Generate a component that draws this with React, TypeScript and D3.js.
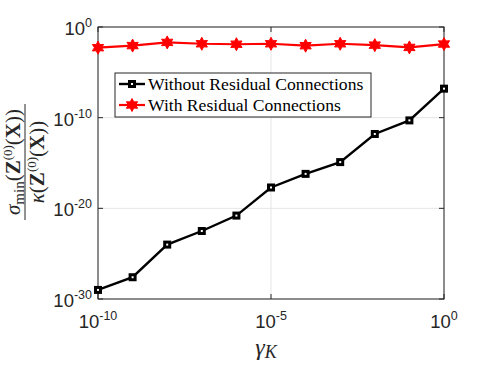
import * as d3 from "d3";

const W = 491, H = 368;
const M = { left: 98, right: 47, top: 27, bottom: 69 };
const IW = W - M.left - M.right;
const IH = H - M.top - M.bottom;

// gamma_K values, one point per decade
const GAMMA = [1e-10, 1e-9, 1e-8, 1e-7, 1e-6, 1e-5, 1e-4, 1e-3, 1e-2, 1e-1, 1e0];
// log10 of the ratio
const WITHOUT_LOG = [-29.0, -27.6, -24.0, -22.5, -20.8, -17.7, -16.2, -14.9, -11.8, -10.3, -6.8];
const WITH_LOG = [-2.28, -2.05, -1.7, -1.85, -1.9, -1.85, -2.06, -1.85, -2.0, -2.25, -1.88];

const X_TICKS = [1e-10, 1e-5, 1e0];
const X_EXP = ["-10", "-5", "0"];
const Y_TICKS = [1e0, 1e-10, 1e-20, 1e-30];
const Y_EXP = ["0", "-10", "-20", "-30"];

const AX = "#262626";
const GRID = "#e5e5e5";
const RED = "#ff0000";
const SANS = "'Liberation Sans', Arial, sans-serif";
const SERIF = "'Liberation Serif', 'Times New Roman', serif";

const x = d3.scaleLog().domain([1e-10, 1]).range([0, IW]);
const y = d3.scaleLog().domain([1e-30, 1]).range([IH, 0]);

const without = GAMMA.map((g, i) => ({ g, v: Math.pow(10, WITHOUT_LOG[i]) }));
const withRes = GAMMA.map((g, i) => ({ g, v: Math.pow(10, WITH_LOG[i]) }));

const line = d3.line<{ g: number; v: number }>().x(d => x(d.g)).y(d => y(d.v));

// six-pointed star (hexagram) marker
function hexagram(r: number) {
  const pts: [number, number][] = [];
  for (let k = 0; k < 12; k++) {
    const a = (Math.PI / 6) * k - Math.PI / 2;
    const rr = k % 2 === 0 ? r : r * 0.55;
    pts.push([Math.cos(a) * rr, Math.sin(a) * rr]);
  }
  return d3.line()(pts) + "Z";
}
const STAR = hexagram(6.5);

function Square({ cx, cy }: { cx: number; cy: number }) {
  return (
    <g>
      <rect x={cx - 4} y={cy - 4} width={8} height={8} fill="#000" />
      <rect x={cx - 1} y={cy - 1} width={2} height={2} fill="#fff" />
    </g>
  );
}

export default function App() {
  return (
    <div style={{ position: "absolute", left: 0, top: 0, width: W, height: H, background: "#fff" }}>
      <svg width={W} height={H} style={{ display: "block" }}>
        <g transform={`translate(${M.left},${M.top})`}>
          {/* grid */}
          {X_TICKS.map(t => (
            <line key={"gx" + t} x1={x(t)} x2={x(t)} y1={0} y2={IH} stroke={GRID} strokeWidth={1} />
          ))}
          {Y_TICKS.map(t => (
            <line key={"gy" + t} x1={0} x2={IW} y1={y(t)} y2={y(t)} stroke={GRID} strokeWidth={1} />
          ))}

          {/* box */}
          <rect x={0} y={0} width={IW} height={IH} fill="none" stroke={AX} strokeWidth={1} />
          {X_TICKS.map(t => (
            <g key={"tx" + t}>
              <line x1={x(t)} x2={x(t)} y1={IH} y2={IH - 5} stroke={AX} />
              <line x1={x(t)} x2={x(t)} y1={0} y2={5} stroke={AX} />
            </g>
          ))}
          {Y_TICKS.map(t => (
            <g key={"ty" + t}>
              <line x1={0} x2={5} y1={y(t)} y2={y(t)} stroke={AX} />
              <line x1={IW} x2={IW - 5} y1={y(t)} y2={y(t)} stroke={AX} />
            </g>
          ))}

          {/* tick labels */}
          {X_TICKS.map((t, i) => (
            <text key={"lx" + t} x={x(t)} y={IH + 29} textAnchor="middle" fontFamily={SANS} fontSize={18.5} fill={AX}>
              10<tspan fontSize={12.5} dy={-8}>{X_EXP[i]}</tspan>
            </text>
          ))}
          {Y_TICKS.map((t, i) => (
            <text key={"ly" + t} x={-6} y={y(t) + 8} textAnchor="end" fontFamily={SANS} fontSize={18.5} fill={AX}>
              10<tspan fontSize={12.5} dy={-8}>{Y_EXP[i]}</tspan>
            </text>
          ))}

          {/* series */}
          <path d={line(withRes) ?? ""} fill="none" stroke={RED} strokeWidth={2.2} />
          {withRes.map(d => (
            <path key={"r" + d.g} d={STAR} transform={`translate(${x(d.g)},${y(d.v)})`} fill={RED} stroke={RED} strokeWidth={1} />
          ))}
          <path d={line(without) ?? ""} fill="none" stroke="#000" strokeWidth={2.4} />
          {without.map(d => (
            <Square key={"b" + d.g} cx={x(d.g)} cy={y(d.v)} />
          ))}
        </g>

        {/* legend */}
        <g transform="translate(115,73)">
          <rect x={0} y={0} width={256} height={44} fill="#fff" stroke={AX} strokeWidth={1} />
          <line x1={4} x2={30} y1={11} y2={11} stroke="#000" strokeWidth={2.4} />
          <Square cx={17} cy={11} />
          <text x={33} y={16.5} fontFamily={SERIF} fontSize={17.6} fill="#000">Without Residual Connections</text>
          <line x1={4} x2={30} y1={32} y2={32} stroke={RED} strokeWidth={2.2} />
          <path d={STAR} transform="translate(17,32)" fill={RED} stroke={RED} strokeWidth={1} />
          <text x={33} y={37.5} fontFamily={SERIF} fontSize={17.6} fill="#000">With Residual Connections</text>
        </g>

        {/* x label */}
        <text x={266} y={355} textAnchor="middle" fontFamily={SERIF} fontStyle="italic" fontSize={24} fill={AX}>
          γ<tspan fontSize={18} dy={3}>K</tspan>
        </text>

        {/* y label */}
        <g transform="translate(25,162) rotate(-90)" fontFamily={SERIF} fill={AX}>
          <text x={0} y={-5} textAnchor="middle" fontSize={21}>
            <tspan fontStyle="italic">σ</tspan>
            <tspan fontSize={15} dy={4}>min</tspan>
            <tspan dy={-4}>(</tspan>
            <tspan fontWeight="bold">Z</tspan>
            <tspan fontSize={13} dy={-8}>(0)</tspan>
            <tspan dy={8}>(</tspan>
            <tspan fontWeight="bold">X</tspan>
            <tspan>))</tspan>
          </text>
          <line x1={-58} x2={58} y1={0} y2={0} stroke={AX} strokeWidth={1} />
          <text x={0} y={19} textAnchor="middle" fontSize={21}>
            <tspan fontStyle="italic">κ</tspan>
            <tspan>(</tspan>
            <tspan fontWeight="bold">Z</tspan>
            <tspan fontSize={13} dy={-8}>(0)</tspan>
            <tspan dy={8}>(</tspan>
            <tspan fontWeight="bold">X</tspan>
            <tspan>))</tspan>
          </text>
        </g>
      </svg>
    </div>
  );
}
